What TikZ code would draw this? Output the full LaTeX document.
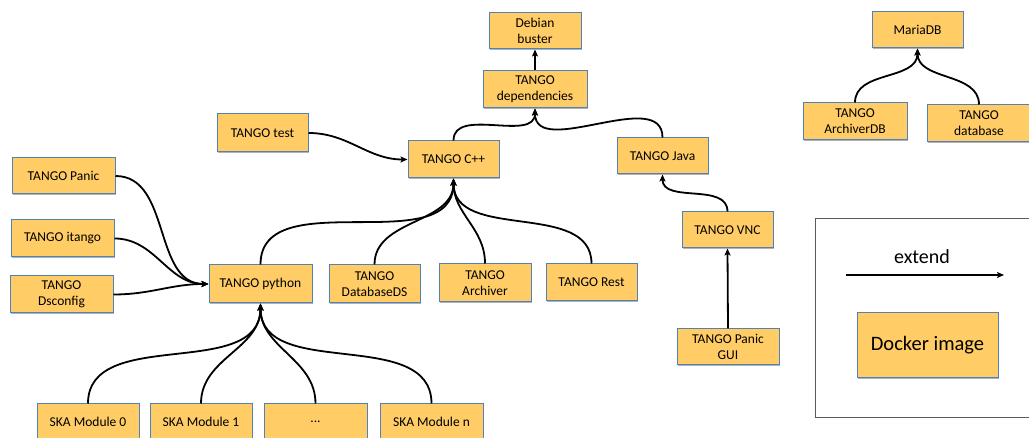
\documentclass[tikz,border=0pt]{standalone}
\usepackage{fontspec}
\setmainfont{Carlito}
\usetikzlibrary{arrows.meta,shadows}
\definecolor{boxfill}{RGB}{255,204,102}
\definecolor{boxline}{RGB}{79,129,189}
\definecolor{legline}{RGB}{90,90,90}
\tikzset{
  box/.style={rectangle, fill=boxfill, draw=boxline, line width=1pt, align=center,
    inner sep=0pt, font=\fontsize{13.5}{16}\selectfont,
    general shadow={fill=black!30, shadow xshift=1.2pt, shadow yshift=-1.2pt}},
  conn/.style={line width=1.8pt, -{Stealth[length=7pt,width=6pt,inset=1.5pt]}},
}
\begin{document}
\begin{tikzpicture}[x=1pt,y=1pt]
\useasboundingbox (0,0) rectangle (1029,438);
\clip (0,0) rectangle (1029,438);
\fill[white] (0,0) rectangle (1029,438);

% nodes
\node[box, minimum width=92pt, minimum height=36pt] (debian) at (535,407) {Debian\\buster};
\node[box, minimum width=104pt, minimum height=37pt] (deps) at (535,348.5) {TANGO\\dependencies};
\node[box, minimum width=91pt, minimum height=37pt] (cpp) at (453.5,278.5) {TANGO C++};
\node[box, minimum width=91pt, minimum height=36pt] (java) at (662.5,282) {TANGO Java};
\node[box, minimum width=91pt, minimum height=38pt] (test) at (262.5,305) {TANGO test};
\node[box, minimum width=103pt, minimum height=36pt] (panic) at (63.5,262) {TANGO Panic};
\node[box, minimum width=103pt, minimum height=37pt] (itango) at (62.5,199.5) {TANGO itango};
\node[box, minimum width=103pt, minimum height=37pt] (dsconfig) at (61.5,143.5) {TANGO\\Dsconfig};
\node[box, minimum width=103pt, minimum height=38pt] (python) at (260.5,154) {TANGO python};
\node[box, minimum width=91pt, minimum height=38pt] (dbds) at (374.5,154) {TANGO\\DatabaseDS};
\node[box, minimum width=92pt, minimum height=38pt] (archiver) at (485,155) {TANGO\\Archiver};
\node[box, minimum width=91pt, minimum height=37pt] (rest) at (591.5,155.5) {TANGO Rest};
\node[box, minimum width=91pt, minimum height=36pt] (vnc) at (727.5,208) {TANGO VNC};
\node[box, minimum width=102pt, minimum height=36pt] (panicgui) at (728,91) {TANGO Panic\\GUI};
\node[box, minimum width=102pt, minimum height=36pt] (ska0) at (88,16) {SKA Module 0};
\node[box, minimum width=102pt, minimum height=36pt] (ska1) at (201,16) {SKA Module 1};
\node[box, minimum width=103pt, minimum height=36pt] (skadots) at (315.5,16) {...};
\node[box, minimum width=103pt, minimum height=36pt] (skan) at (431.5,16) {SKA Module n};
\node[box, minimum width=91pt, minimum height=36pt] (maria) at (917.5,408) {MariaDB};
\node[box, minimum width=104pt, minimum height=37pt] (archdb) at (855,316.5) {TANGO\\ArchiverDB};
\node[box, minimum width=104pt, minimum height=37pt] (tdb) at (979,314.5) {TANGO\\database};

% legend
\node[rectangle, draw=legline, line width=1pt, minimum width=240pt, minimum height=199pt, anchor=north west] (legend) at (815,220) {};
\coordinate (extA) at (846,163);
\coordinate (extB) at (1004,163);
\node[font=\fontsize{20}{24}\selectfont] (extlbl) at (922,181) {extend};
\draw[line width=1.5pt, -{Stealth[length=7pt,width=6pt,inset=1.5pt]}] (extA) -- (extB);
\node[box, minimum width=141pt, minimum height=65pt, font=\fontsize{20.5}{24}\selectfont] (docker) at (927.5,92.5) {Docker image};

% connectors
\draw[conn] (deps.north) -- (debian.south);
\draw[conn] (cpp.north) to[out=90,in=-90] (deps.south);
\draw[conn] (java.north) to[out=90,in=-90] (deps.south);
\draw[conn] (test.east) to[out=0,in=180] (cpp.west);
\draw[conn] (panic.east) to[out=0,in=180] (python.west);
\draw[conn] (itango.east) to[out=0,in=180] (python.west);
\draw[conn] (dsconfig.east) to[out=0,in=180] (python.west);
\draw[conn] (python.north) to[out=90,in=-90] (cpp.south);
\draw[conn] (dbds.north) to[out=90,in=-90] (cpp.south);
\draw[conn] (archiver.north) to[out=90,in=-90] (cpp.south);
\draw[conn] (rest.north) to[out=90,in=-90] (cpp.south);
\draw[conn] (vnc.north) to[out=90,in=-90] (java.south);
\draw[conn] (panicgui.north) -- (vnc.south);
\draw[conn] (ska0.north) to[out=90,in=-90] (python.south);
\draw[conn] (ska1.north) to[out=90,in=-90] (python.south);
\draw[conn] (skadots.north) to[out=90,in=-90] (python.south);
\draw[conn] (skan.north) to[out=90,in=-90] (python.south);
\draw[conn] (archdb.north) to[out=90,in=-90] (maria.south);
\draw[conn] (tdb.north) to[out=90,in=-90] (maria.south);
\end{tikzpicture}
\end{document}
